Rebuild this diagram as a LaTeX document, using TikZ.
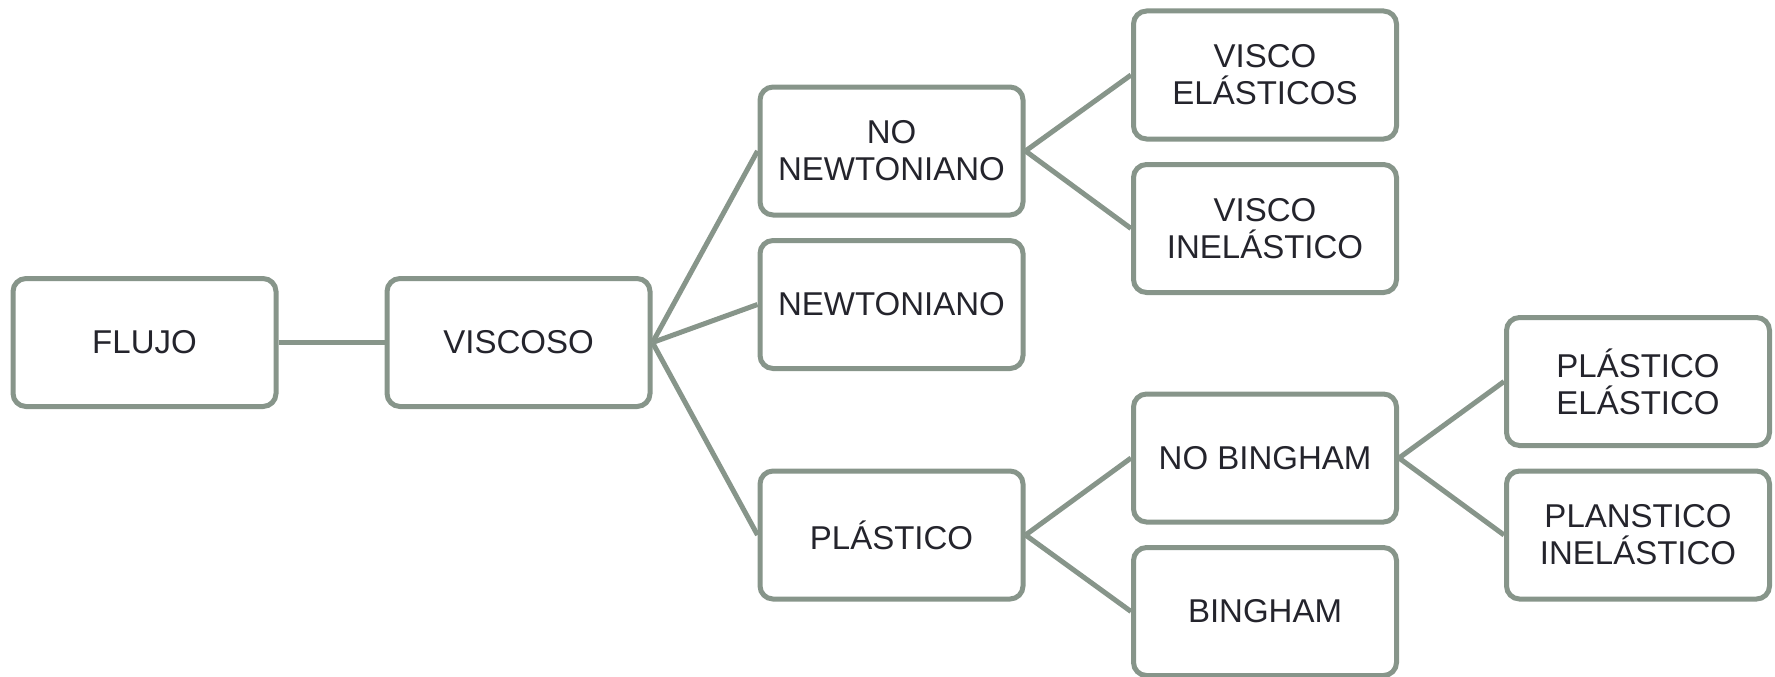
\documentclass[tikz,border=0pt]{standalone}
\usepackage{fontspec}
\setmainfont{Liberation Sans}
\definecolor{boxline}{HTML}{87958A}
\definecolor{txt}{HTML}{24242C}
\begin{document}
\begin{tikzpicture}[x=1pt,y=-1pt,
  box/.style={draw=boxline, line width=5pt, rounded corners=13pt, fill=white,
    minimum width=263pt, minimum height=128pt, inner sep=2pt, align=center,
    text=txt, font=\fontsize{33}{37}\selectfont},
  link/.style={draw=boxline, line width=5pt}]
\useasboundingbox (0,0) rectangle (1775,677);
\node[box] (flujo) at (144.5,342.5) {FLUJO};
\node[box] (visc) at (518.5,342.5) {VISCOSO};
\node[box] (nonew) at (891.5,151) {NO\\NEWTONIANO};
\node[box] (new) at (891.5,304.5) {NEWTONIANO};
\node[box] (plas) at (891.5,535) {PLÁSTICO};
\node[box] (ve) at (1265,75) {VISCO\\ELÁSTICOS};
\node[box] (vi) at (1265,228.5) {VISCO\\INELÁSTICO};
\node[box] (nob) at (1265,458) {NO BINGHAM};
\node[box] (bing) at (1265,611.5) {BINGHAM};
\node[box] (pe) at (1638,381.5) {PLÁSTICO\\ELÁSTICO};
\node[box] (pi) at (1638,535) {PLANSTICO\\INELÁSTICO};
\draw[link] (flujo.east) -- (visc.west);
\draw[link] (visc.east) -- (nonew.west);
\draw[link] (visc.east) -- (new.west);
\draw[link] (visc.east) -- (plas.west);
\draw[link] (nonew.east) -- (ve.west);
\draw[link] (nonew.east) -- (vi.west);
\draw[link] (plas.east) -- (nob.west);
\draw[link] (plas.east) -- (bing.west);
\draw[link] (nob.east) -- (pe.west);
\draw[link] (nob.east) -- (pi.west);
\end{tikzpicture}
\end{document}
